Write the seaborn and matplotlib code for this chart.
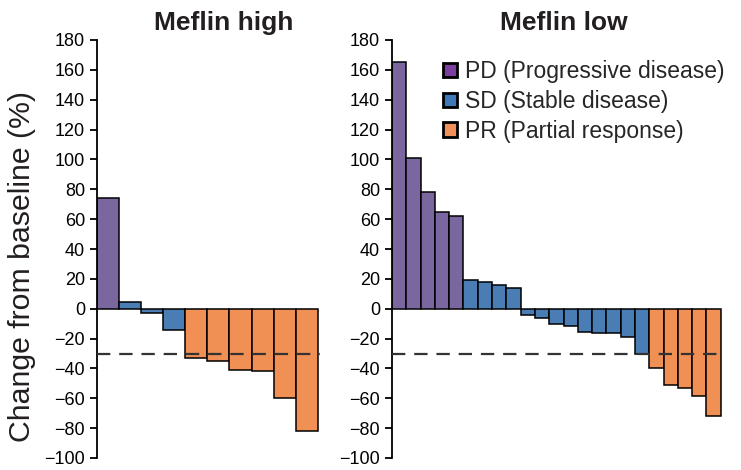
import matplotlib
matplotlib.use('Agg')
import matplotlib.pyplot as plt
from matplotlib.patches import Patch
import seaborn as sns
import pandas as pd

# Waterfall data (change from baseline, %)
high_values = [74, 4.5, -3, -14, -33, -35, -41, -42, -60, -82]
high_resp = ['PD', 'SD', 'SD', 'SD', 'PR', 'PR', 'PR', 'PR', 'PR', 'PR']

low_values = [165, 101, 78, 65, 62,
              19, 18, 16, 14, -4.5, -6.5, -10, -11.5, -15.5, -16, -16.5, -19, -30,
              -40, -51, -53, -58.5, -72]
low_resp = ['PD'] * 5 + ['SD'] * 13 + ['PR'] * 5

legend_labels = ['PD (Progressive disease)', 'SD (Stable disease)', 'PR (Partial response)']
yticks = list(range(-100, 181, 20))
threshold = -30

bar_colors = {'PD': '#7b67a0', 'SD': '#4b7db5', 'PR': '#f09055'}
legend_colors = ['#7d3f9e', '#4179b8', '#f0915a']

sns.set_style('ticks')
plt.rcParams['font.family'] = ['Liberation Sans', 'DejaVu Sans']

fig = plt.figure(figsize=(7.41, 4.70), dpi=100)
ax_high = fig.add_axes([97 / 741, 12 / 470, 223 / 741, 418 / 470])
ax_low = fig.add_axes([392 / 741, 12 / 470, 332 / 741, 418 / 470])


def draw_panel(ax, values, resp, extra):
    df = pd.DataFrame({'idx': range(len(values)), 'value': values, 'resp': resp})
    sns.barplot(data=df, x='idx', y='value', hue='resp', palette=bar_colors,
                saturation=1, width=1.0, edgecolor='black', linewidth=1.1,
                dodge=False, legend=False, ax=ax)
    ax.axhline(threshold, color='#333333', lw=1.6, linestyle=(0, (6, 4)), zorder=5)
    ax.set_xlim(-0.5, len(values) - 0.5 + extra)
    ax.set_ylim(-100, 180)
    ax.set_yticks(yticks)
    ax.set_xticks([])
    ax.set_xlabel('')
    ax.set_ylabel('')
    for s in ['top', 'right', 'bottom']:
        ax.spines[s].set_visible(False)
    ax.spines['left'].set_linewidth(1.3)
    ax.spines['left'].set_color('black')
    ax.tick_params(axis='y', direction='out', length=5, width=1.3,
                   labelsize=13, colors='black')


draw_panel(ax_high, high_values, high_resp, 0.1)
draw_panel(ax_low, low_values, low_resp, 0.23)

fig.text(224 / 741, 1 - 23 / 470, 'Meflin high', ha='center', va='center',
         fontsize=19, fontweight='bold', color='#231f20')
fig.text(564 / 741, 1 - 23 / 470, 'Meflin low', ha='center', va='center',
         fontsize=19, fontweight='bold', color='#231f20')
fig.text(22 / 741, 1 - 267 / 470, 'Change from baseline (%)', rotation=90,
         ha='center', va='center', fontsize=21.8, color='#231f20')

handles = [Patch(facecolor=c, edgecolor='black', linewidth=2) for c in legend_colors]
fig.legend(handles, legend_labels, loc='upper left',
           bbox_to_anchor=(443 / 741, 1 - 60 / 470), frameon=False,
           fontsize=16.5, handlelength=0.6, handleheight=0.6, handletextpad=0.35,
           labelspacing=0.3, borderpad=0, borderaxespad=0)

plt.savefig('out.png', dpi=100)
plt.close()
